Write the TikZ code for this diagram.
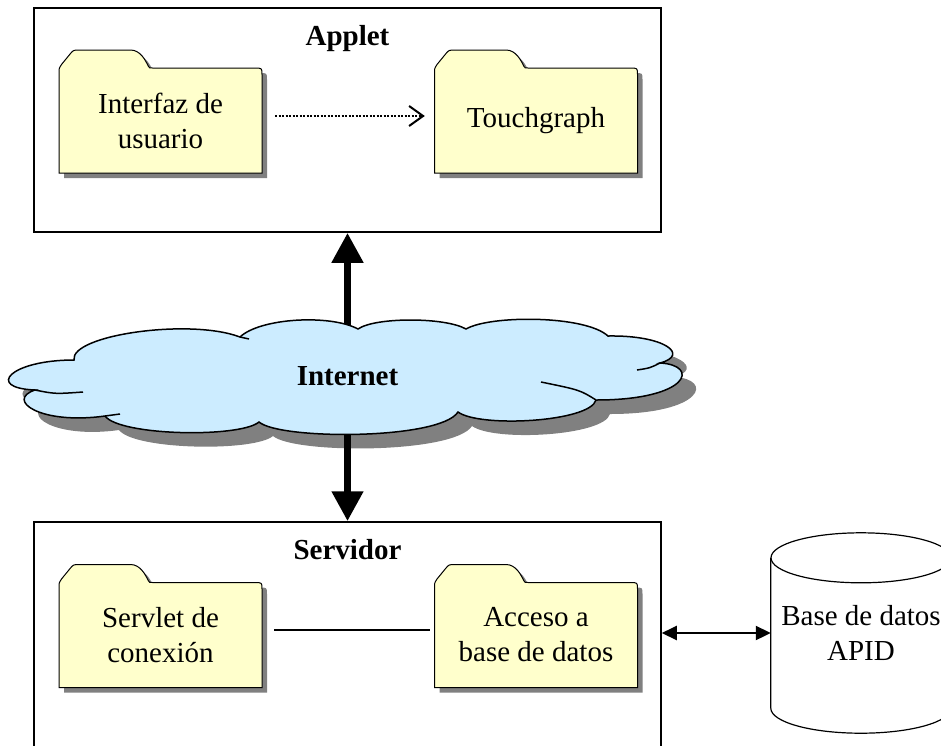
\documentclass[tikz,border=0pt]{standalone}
\usepackage{fontspec}
\setmainfont{Liberation Serif}
\usetikzlibrary{arrows.meta}

\definecolor{amarillo}{HTML}{FFFFCC}
\definecolor{celeste}{HTML}{CCECFF}
\definecolor{gris}{HTML}{808080}

% contorno de una carpeta, centrada en (0,0)
\newcommand{\formacarpeta}{(-101.5,52.5) -- (-101.5,-48) .. controls (-101.5,-52) .. (-99,-56) -- (-90,-67) .. controls (-87,-70.5) .. (-80,-70.5) -- (-30,-70.5) .. controls (-20,-70.5) and (-15,-60) .. (-12,-54) .. controls (-11,-52.5) .. (-8,-52.5) -- (94,-52.5) .. controls (101.5,-52.5) .. (101.5,-46) -- (101.5,52.5) -- cycle}

% contorno de la nube
\newcommand{\contornonube}{(74,360) .. controls (70,335) and (190,318) .. (240,337) .. controls (260,318) and (330,314) .. (358,329) .. controls (375,317) and (445,317) .. (466,329) .. controls (490,315) and (585,315) .. (608,336) .. controls (665,335) and (690,355) .. (660,363) .. controls (700,365) and (690,400) .. (596,400) .. controls (590,422) and (480,428) .. (458,412) .. controls (440,440) and (280,440) .. (259,422) .. controls (240,438) and (120,436) .. (105,416) .. controls (40,425) and (5,400) .. (35,390) .. controls (-15,388) and (10,360) .. (74,360) -- cycle}

\newcommand{\carpeta}[3]{%
  \begin{scope}[shift={(#2)}]
    \fill[sombra,shift={(5,5)}] \formacarpeta;
    \filldraw[carpeta] \formacarpeta;
    \node[texto,minimum width=203pt,minimum height=105pt,inner sep=0pt] (#1) at (0,0) {#3};
  \end{scope}}

\begin{document}
\begin{tikzpicture}
[
    x=1pt, y=-1pt,
    caja/.style={draw, line width=1.5pt, inner sep=0pt},
    titulo/.style={font=\bfseries\fontsize{29}{35}\selectfont, anchor=base},
    texto/.style={font=\fontsize{29}{35}\selectfont, align=center},
    carpeta/.style={fill=amarillo, draw, line width=1pt},
    sombra/.style={fill=gris},
    nube/.style={fill=celeste, draw, line width=1.5pt},
    flecha/.style={line width=7.5pt, -{Triangle[length=30pt,width=30pt]}},
]
\useasboundingbox (0,0) rectangle (941,745);
\clip (0,0) rectangle (941,745);

% cajas
\node[caja, minimum width=627pt, minimum height=224pt] (applet) at (347.5,120) {};
\node[titulo] (applet-t) at ([yshift=-38pt]applet.north) {Applet};
\node[caja, minimum width=627pt, minimum height=248pt] (servidor) at (347.5,646) {};
\node[titulo] (servidor-t) at ([yshift=-38pt]servidor.north) {Servidor};

% paquetes
\carpeta{interfaz}{160.5,120.5}{Interfaz de\\usuario}
\carpeta{touchgraph}{536,120.5}{Touchgraph}
\carpeta{servlet}{160.5,635}{Servlet de\\conexión}
\carpeta{acceso}{536,635}{Acceso a\\base de datos}

% internet
\coordinate (nube) at (347.5,376);
\fill[sombra, shift={(14,14)}] \contornonube;
\draw[flecha] (nube) -- (nube |- applet.south);
\draw[flecha] (nube) -- (nube |- servidor.north);
\filldraw[nube] \contornonube;
\draw[line width=1.5pt] (35,390) .. controls (55,394) .. (83,392);
\draw[line width=1.5pt] (105,416) -- (120,414);
\draw[line width=1.5pt] (240,337) -- (249,339);
\draw[line width=1.5pt] (660,363) .. controls (650,368) .. (637,370);
\draw[line width=1.5pt] (596,400) .. controls (580,390) .. (541,382);
\node[titulo, anchor=center] (internet) at (nube) {Internet};

% base de datos
\node[texto, minimum width=180pt, minimum height=150pt, inner sep=0pt] (bd) at (861,633) {Base de datos\\APID};
\draw[line width=1.2pt] (bd.north west) -- (bd.south west) arc[start angle=180, end angle=360, x radius=90pt, y radius=25pt] -- (bd.north east);
\draw[line width=1.2pt] (bd.north) ellipse [x radius=90pt, y radius=25pt];

% conexiones
\draw[line width=2pt, dash pattern=on 2pt off 1.5pt, -{Straight Barb[length=14pt,width=20pt]}, shorten <=13pt, shorten >=9.5pt]
    ([yshift=4.5pt]interfaz.east) -- ([yshift=4.5pt]touchgraph.west);
\draw[line width=2pt, shorten <=12pt, shorten >=4.5pt] ([yshift=5pt]servlet.east) -- ([yshift=5pt]acceso.west);
\draw[line width=2pt, {Triangle[length=15pt,width=14pt]}-{Triangle[length=15pt,width=14pt]}] (servidor.east |- bd.west) -- (bd.west);
\end{tikzpicture}
\end{document}
